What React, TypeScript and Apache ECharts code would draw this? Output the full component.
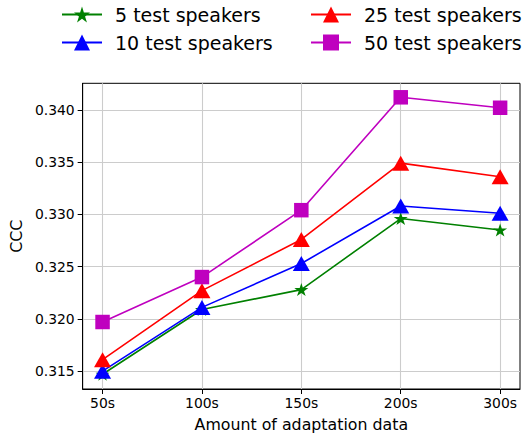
import React, { useEffect, useRef } from "react";
import * as echarts from "echarts";

// Amount of adaptation data (x categories)
const categories = ["50s", "100s", "150s", "200s", "300s"];

// CCC per number of test speakers
const seriesNames = ["5 test speakers", "10 test speakers", "25 test speakers", "50 test speakers"];
const speakers5 = [0.3147, 0.3209, 0.3228, 0.3296, 0.3285];
const speakers10 = [0.3150, 0.3211, 0.3253, 0.3308, 0.3301];
const speakers25 = [0.3161, 0.3227, 0.3276, 0.3349, 0.3336];
const speakers50 = [0.3197, 0.3240, 0.3304, 0.3412, 0.3402];

const yTicks = [0.315, 0.32, 0.325, 0.33, 0.335, 0.34];

const FONT = "DejaVu Sans";
const STAR =
  "path://M0,-1L-0.2245,-0.309L-0.951,-0.309L-0.363,0.118L-0.588,0.809L0,0.382L0.588,0.809L0.363,0.118L0.951,-0.309L0.2245,-0.309Z";

const seriesData = [speakers5, speakers10, speakers25, speakers50];
const colors = ["#008000", "#0000ff", "#ff0000", "#bf00bf"];
const symbols = [STAR, "triangle", "triangle", "rect"];
const symbolSizes: (number | number[])[] = [[14, 13], [17, 15], [17, 15], 14.5];

export default function App() {
  const ref = useRef<HTMLDivElement>(null);

  useEffect(() => {
    if (!ref.current) return;
    document.body.style.margin = "0";
    const chart = echarts.init(ref.current, undefined, { renderer: "svg" });

    const series = seriesData.map((vals, s) => ({
      name: seriesNames[s],
      type: "line",
      data: vals.map((v, i) => [i, v]),
      color: colors[s],
      symbol: symbols[s],
      symbolSize: symbolSizes[s],
      lineStyle: { width: 1.6, color: colors[s] },
      itemStyle: { color: colors[s] },
    }));

    const legendCommon = {
      orient: "vertical",
      top: 5,
      padding: 0,
      itemWidth: 40,
      itemHeight: 20,
      itemGap: 9,
      textStyle: { fontFamily: FONT, fontSize: 19, color: "#000", padding: [0, 0, 0, 8] },
    };

    chart.setOption({
      animation: false,
      backgroundColor: "#fff",
      textStyle: { fontFamily: FONT },
      legend: [
        { ...legendCommon, left: 61, data: [seriesNames[0], seriesNames[1]] },
        { ...legendCommon, left: 310, data: [seriesNames[2], seriesNames[3]] },
      ],
      grid: {
        left: 77.5,
        right: 8,
        top: 83.3,
        bottom: 46,
        show: true,
        borderColor: "#000",
        borderWidth: 1,
        backgroundColor: "transparent",
      },
      xAxis: {
        type: "value",
        min: -0.2,
        max: 4.2,
        name: "Amount of adaptation data",
        nameLocation: "middle",
        nameGap: 27,
        nameTextStyle: { fontFamily: FONT, fontSize: 15.8, color: "#000" },
        axisLine: { show: true, onZero: false, lineStyle: { color: "#000" } },
        axisTick: { show: true, length: 5, customValues: [0, 1, 2, 3, 4], lineStyle: { color: "#000" } },
        axisLabel: {
          customValues: [0, 1, 2, 3, 4],
          formatter: (v: number) => categories[Math.round(v)] ?? "",
          fontFamily: FONT,
          fontSize: 13.9,
          color: "#000",
          margin: 7,
        },
        splitLine: { show: true, lineStyle: { color: "#cccccc", width: 1.1 } },
      },
      yAxis: {
        type: "value",
        min: 0.31329,
        max: 0.34254,
        name: "CCC",
        nameLocation: "middle",
        nameGap: 58,
        nameTextStyle: { fontFamily: FONT, fontSize: 15.8, color: "#000" },
        axisLine: { show: true, onZero: false, lineStyle: { color: "#000" } },
        axisTick: { show: true, length: 5, customValues: yTicks, lineStyle: { color: "#000" } },
        axisLabel: {
          customValues: yTicks,
          formatter: (v: number) => v.toFixed(3),
          fontFamily: FONT,
          fontSize: 13.9,
          color: "#000",
          margin: 8,
        },
        splitLine: { show: true, lineStyle: { color: "#cccccc", width: 1.1 } },
      },
      series,
    });

    return () => chart.dispose();
  }, []);

  return <div ref={ref} style={{ width: 528, height: 437 }} />;
}
